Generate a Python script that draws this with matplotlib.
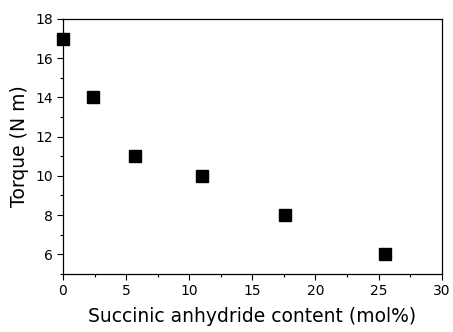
import matplotlib
matplotlib.use("Agg")
import matplotlib.pyplot as plt
from matplotlib.ticker import MultipleLocator

plt.rcParams['font.family'] = ['DejaVu Sans']

content = [0, 2.4, 5.7, 11.0, 17.6, 25.5]
torque = [17, 14, 11, 10, 8, 6]

fig = plt.figure(figsize=(4.53, 3.32), dpi=100)
ax = fig.add_axes([0.139, 0.175, 0.836, 0.768])
ax.plot(content, torque, linestyle='none', marker='s', markersize=8,
        color='black', clip_on=False)
ax.set_xlim(0, 30)
ax.set_ylim(5, 18)
ax.xaxis.set_major_locator(MultipleLocator(5))
ax.xaxis.set_minor_locator(MultipleLocator(2.5))
ax.yaxis.set_minor_locator(MultipleLocator(1))
ax.set_yticks([6, 8, 10, 12, 14, 16, 18])
ax.tick_params(which='major', direction='out', length=4, width=0.8, labelsize=10, pad=3)
ax.tick_params(which='minor', direction='out', length=2.5, width=0.8)
for s in ax.spines.values():
    s.set_linewidth(0.9)
ax.set_xlabel('Succinic anhydride content (mol%)', fontsize=13.5, labelpad=7)
ax.set_ylabel('Torque (N m)', fontsize=13.5, labelpad=5)
fig.savefig('out.png', dpi=100)
